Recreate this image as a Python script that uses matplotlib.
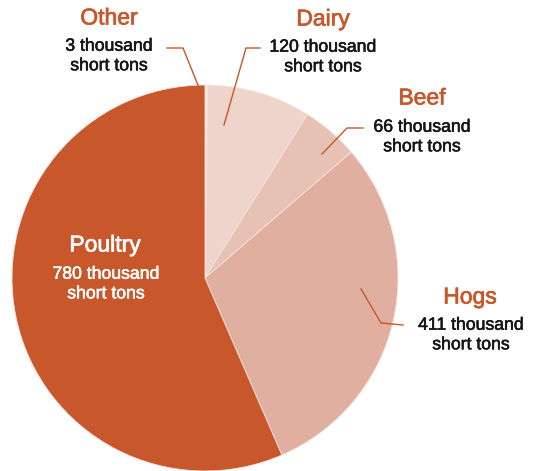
import matplotlib
matplotlib.use("Agg")
import matplotlib.pyplot as plt
import matplotlib.patheffects as pe

categories = ["Other", "Dairy", "Beef", "Hogs", "Poultry"]
values = [3, 120, 66, 411, 780]
value_labels = ["3 thousand\nshort tons", "120 thousand\nshort tons", "66 thousand\nshort tons",
                "411 thousand\nshort tons", "780 thousand\nshort tons"]
colors = ["#F6E9E4", "#EFD4CB", "#E8C1B5", "#E1AF9F", "#C8572C"]

W, H = 537, 471
fig = plt.figure(figsize=(W / 100, H / 100), dpi=100)
ax = fig.add_axes([0, 0, 1, 1])
ax.set_xlim(0, W)
ax.set_ylim(0, H)
ax.set_aspect("equal")
ax.axis("off")

def Y(py):
    return H - py

ax.pie(values, colors=colors, startangle=90, counterclock=False,
       center=(205, Y(278)), radius=193,
       wedgeprops=dict(edgecolor="#F3E4DF", linewidth=0.6))
ax.set_xlim(0, W)
ax.set_ylim(0, H)

font = "Liberation Sans"
orange = "#C8572C"
# title label positions (px), value label positions (px)
pos = {
    "Other": ((109, 18), (109, 56)),
    "Dairy": ((323, 19), (323, 57)),
    "Beef": ((422, 98), (422, 137)),
    "Hogs": ((470, 297), (471, 335)),
    "Poultry": ((105, 245), (106, 284)),
}
for cat, vl in zip(categories, value_labels):
    (tx, ty), (vx, vy) = pos[cat]
    tcol = "white" if cat == "Poultry" else orange
    vcol = "white" if cat == "Poultry" else "#151515"
    ax.text(tx, Y(ty), cat, ha="center", va="center", fontsize=16.5,
            color=tcol, family=font,
            path_effects=[pe.withStroke(linewidth=0.5, foreground=tcol)])
    ax.text(vx, Y(vy), vl, ha="center", va="center", fontsize=12.7,
            color=vcol, family=font, linespacing=1.2,
            path_effects=[pe.withStroke(linewidth=0.4, foreground=vcol)])

leaders = [
    [(167, 48), (183, 48), (202, 95)],
    [(260, 48), (246, 48), (224, 125)],
    [(363, 128), (347, 128), (322, 154)],
    [(403, 325), (381, 323), (361, 289)],
]
for pts in leaders:
    xs = [p[0] for p in pts]
    ys = [Y(p[1]) for p in pts]
    ax.plot(xs, ys, color=orange, lw=1)

fig.savefig("out.png", dpi=100)
